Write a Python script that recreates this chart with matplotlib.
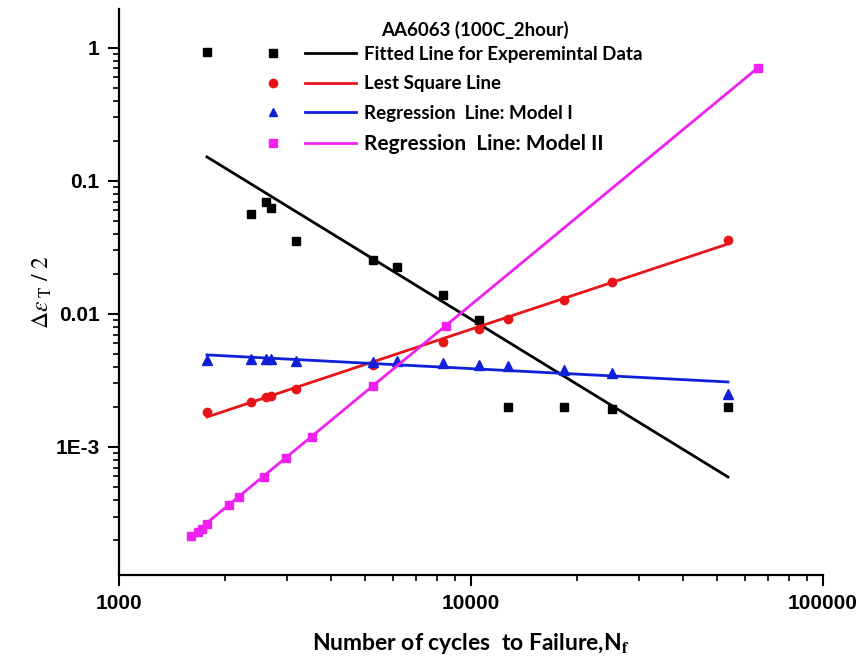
import matplotlib
matplotlib.use("Agg")
import matplotlib.pyplot as plt
from matplotlib.lines import Line2D
from matplotlib.legend_handler import HandlerTuple
from matplotlib.ticker import FixedLocator, LogLocator, NullFormatter

# ---------------- data ----------------
exp_N = [1778, 2371, 2616, 2703, 3185, 5267, 6166, 8318, 10540, 12735, 18360, 25130, 53700]
exp_S = [0.933, 0.0565, 0.0695, 0.0627, 0.0354, 0.0255, 0.0226, 0.0139, 0.0090,
         0.0020, 0.00198, 0.00193, 0.00198]
fit_N = [1778, 53700]
fit_S = [0.1515, 5.95e-4]

ls_N = [1778, 2371, 2616, 2703, 3185, 5267, 8318, 10540, 12735, 18360, 25130, 53700]
ls_S = [1.83e-3, 2.18e-3, 2.38e-3, 2.41e-3, 2.73e-3, 4.14e-3, 6.16e-3, 7.7e-3,
        9.17e-3, 0.0127, 0.0174, 0.036]
lsl_N = [1778, 53700]
lsl_S = [1.68e-3, 0.0336]

m1_N = [1778, 2371, 2616, 2703, 3185, 5267, 6166, 8318, 10540, 12735, 18360, 25130, 53700]
m1_S = [4.51e-3, 4.59e-3, 4.59e-3, 4.59e-3, 4.43e-3, 4.35e-3, 4.43e-3, 4.28e-3,
        4.14e-3, 4.06e-3, 3.79e-3, 3.60e-3, 2.50e-3]
m1l_N = [1778, 53700]
m1l_S = [4.92e-3, 3.08e-3]

m2_N = [1602, 1676, 1721, 1778, 2054, 2193, 2582, 2980, 3532, 5267, 8492, 65300]
m2_S = [2.14e-4, 2.30e-4, 2.42e-4, 2.64e-4, 3.66e-4, 4.21e-4, 5.94e-4, 8.26e-4,
        1.19e-3, 2.88e-3, 8.13e-3, 0.708]
m2l_N = [1602, 65300]
m2l_S = [2.14e-4, 0.708]

x_ticks = [1000, 10000, 100000]
x_labels = ["1000", "10000", "100000"]
y_ticks = [1e-3, 1e-2, 1e-1, 1]
y_labels = ["1E-3", "0.01", "0.1", "1"]

legend_title = "AA6063 (100C_2hour)"
names = ["Fitted Line for Experemintal Data", "Lest Square Line",
         "Regression  Line: Model I", "Regression  Line: Model II"]

# ---------------- figure ----------------
plt.rcParams["mathtext.fontset"] = "stix"
W, H = 861, 668
fig = plt.figure(figsize=(W / 100, H / 100), dpi=100)
ax = fig.add_axes([119 / W, (H - 575) / H, (823 - 119) / W, (575 - 9) / H])

ax.set_xscale("log")
ax.set_yscale("log")
ax.set_xlim(1000, 100000)
ax.set_ylim(1.09e-4, 1.96)

lw = 2.0
ms = 6
cols = ["black", "#e8141a", "#1020d8", "#f020f0"]
ax.plot(fit_N, fit_S, color=cols[0], lw=lw)
ax.plot(exp_N, exp_S, ls="none", marker="s", color=cols[0], ms=ms)
ax.plot(lsl_N, lsl_S, color=cols[1], lw=lw)
ax.plot(ls_N, ls_S, ls="none", marker="o", color=cols[1], ms=ms)
ax.plot(m1l_N, m1l_S, color=cols[2], lw=lw)
ax.plot(m1_N, m1_S, ls="none", marker="^", color=cols[2], ms=ms + 1)
ax.plot(m2l_N, m2l_S, color=cols[3], lw=lw)
ax.plot(m2_N, m2_S, ls="none", marker="s", color=cols[3], ms=ms)

# axes styling
for s in ["top", "right"]:
    ax.spines[s].set_visible(False)
for s in ["left", "bottom"]:
    ax.spines[s].set_linewidth(1.6)

ax.xaxis.set_major_locator(FixedLocator(x_ticks))
ax.set_xticklabels(x_labels)
ax.xaxis.set_minor_locator(LogLocator(base=10, subs=range(2, 10)))
ax.xaxis.set_minor_formatter(NullFormatter())
ax.yaxis.set_major_locator(FixedLocator(y_ticks))
ax.set_yticklabels(y_labels)
ax.yaxis.set_minor_locator(LogLocator(base=10, subs=range(2, 10)))
ax.yaxis.set_minor_formatter(NullFormatter())

ax.tick_params(which="major", direction="out", length=8, width=1.5, pad=6)
ax.tick_params(which="minor", direction="out", length=4, width=1.2)
for lab in ax.get_xticklabels() + ax.get_yticklabels():
    lab.set_fontfamily("Liberation Sans")
    lab.set_fontweight("bold")
    lab.set_fontsize(15)

ax.set_xlabel("Number of cycles  to Failure,N$_\\mathbf{f}$", fontfamily="Lato",
              fontweight="bold", fontsize=16.5, labelpad=13)
ax.set_ylabel(r"$\Delta\varepsilon_{\ \mathrm{T}}\ /\ 2$", fontsize=17, labelpad=1)

# legend
marks = ["s", "o", "^", "s"]
handles = []
for c, m in zip(cols, marks):
    mk = Line2D([], [], ls="none", marker=m, color=c, ms=ms)
    ln = Line2D([], [], color=c, lw=lw)
    handles.append((mk, ln))
fs = 13.5
leg = ax.legend(handles, names, handler_map={tuple: HandlerTuple(ndivide=None, pad=0.32)},
                frameon=False, loc="upper left", bbox_to_anchor=(231 / W, 1 - 29 / H),
                bbox_transform=fig.transFigure, handlelength=5.76, handletextpad=0.43,
                labelspacing=0.66, borderpad=0.4,
                prop={"family": "Lato", "weight": "bold", "size": fs})
leg.get_texts()[3].set_fontsize(15)
fig.text(475 / W, 1 - 30 / H, legend_title, ha="center", va="center",
         fontfamily="Lato", fontweight="bold", fontsize=13.5)

fig.savefig("out.png", dpi=100)
